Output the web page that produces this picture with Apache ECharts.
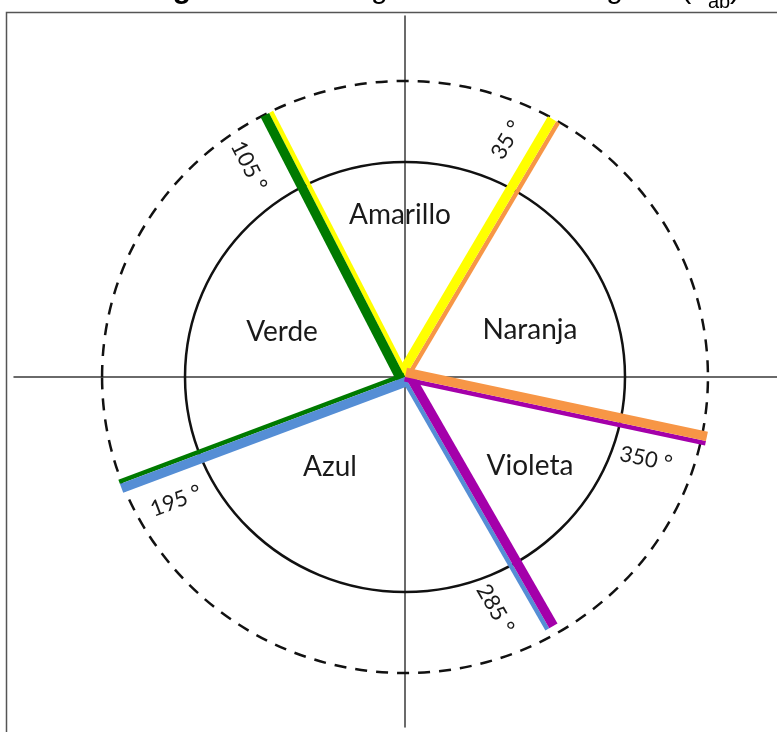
<!DOCTYPE html>
<html><head><meta charset="utf-8">
<script src="https://cdn.jsdelivr.net/npm/echarts@6/dist/echarts.min.js"></script>
<style>html,body{margin:0;padding:0;background:#fff}#c{width:777px;height:732px}</style>
</head><body><div id="c"></div>
<script>
// Hue-angle boundaries (labels as written) and where they are drawn (schematic diagram)
const boundaryLabels = ['35 °', '105 °', '195 °', '285 °', '350 °'];
const boundaryDrawAngle = [60.0, 116.7, 201.0, 299.3, 347.7];
const boundaryLength = [1.374, 1.375, 1.388, 1.34, 1.40];
const boundaryLabelAngle = [67.2, 125.9, 209.0, 290.8, 340.8];
const boundaryLabelRadius = [1.196, 1.211, 1.190, 1.154, 1.160];
const boundaryMainColor = ['#FFFF00', '#007A00', '#558ED5', '#A400AA', '#F79646'];
const boundaryEdgeColor = ['#F79646', '#FFFF00', '#007A00', '#558ED5', '#A400AA'];
// Colour regions
const regionNames = ['Amarillo', 'Naranja', 'Verde', 'Azul', 'Violeta'];
const regionX = [-0.023, 0.568, -0.559, -0.341, 0.568];
const regionY = [0.753, 0.219, 0.209, -0.419, -0.414];
// Reference circles (radius, dashed?)
const circleRadius = [1, 1.377];
const circleDashed = [0, 1];

const chart = echarts.init(document.getElementById('c'), null, {renderer: 'canvas'});

function rayItem(params, api) {
  const i = params.dataIndex;
  const ang = api.value(0) * Math.PI / 180, len = api.value(1);
  const p0 = api.coord([0, 0]);
  const p1 = api.coord([len * Math.cos(ang), len * Math.sin(ang)]);
  let dx = p1[0] - p0[0], dy = p1[1] - p0[1];
  const L = Math.hypot(dx, dy); dx /= L; dy /= L;
  const nx = dy, ny = -dx;
  const wMain = 9.5, wEdge = 4.5;
  const o1 = wMain / 2, o2 = -wEdge / 2;
  return {type: 'group', children: [
    {type: 'line', shape: {x1: p0[0] + nx * o2, y1: p0[1] + ny * o2, x2: p1[0] + nx * o2, y2: p1[1] + ny * o2},
      style: {stroke: boundaryEdgeColor[i], lineWidth: wEdge}},
    {type: 'line', shape: {x1: p0[0] + nx * o1, y1: p0[1] + ny * o1, x2: p1[0] + nx * o1, y2: p1[1] + ny * o1},
      style: {stroke: boundaryMainColor[i], lineWidth: wMain}}
  ]};
}

function rayLabelItem(params, api) {
  const i = params.dataIndex;
  const a = api.value(0) * Math.PI / 180, r = api.value(1);
  const p = api.coord([r * Math.cos(a), r * Math.sin(a)]);
  const b = boundaryDrawAngle[i] * Math.PI / 180;
  const p0 = api.coord([0, 0]);
  const p1 = api.coord([Math.cos(b), Math.sin(b)]);
  let rot = Math.atan2(-(p1[1] - p0[1]), p1[0] - p0[0]);
  if (rot > Math.PI / 2) rot -= Math.PI;
  if (rot < -Math.PI / 2) rot += Math.PI;
  return {type: 'text', x: p[0], y: p[1], rotation: rot,
    style: {text: boundaryLabels[i], font: '22px Lato', fill: '#1a1a1a', align: 'center', verticalAlign: 'middle'}};
}

function circleItem(params, api) {
  const r = api.value(0), dashed = api.value(1);
  const c = api.coord([0, 0]);
  const sx = api.size([r, 0])[0], sy = api.size([0, r])[1];
  return {type: 'ellipse', shape: {cx: c[0], cy: c[1], rx: sx, ry: sy},
    style: {fill: null, stroke: '#111', lineWidth: 2.5, lineDash: dashed ? [12, 9] : null}};
}

function regionItem(params, api) {
  const p = api.coord([api.value(0), api.value(1)]);
  return {type: 'text', x: p[0], y: p[1],
    style: {text: regionNames[params.dataIndex], font: '28px Lato', fill: '#1a1a1a', align: 'center', verticalAlign: 'middle'}};
}

const option = {
  animation: false,
  backgroundColor: '#fff',
  grid: {left: 14, right: 0, top: 16, bottom: 5, containLabel: false},
  xAxis: {type: 'value', min: -1.7773, max: 1.6909,
    axisLine: {show: true, onZero: true, lineStyle: {color: '#3a3a3a', width: 1.5}},
    axisTick: {show: false}, axisLabel: {show: false}, splitLine: {show: false}},
  yAxis: {type: 'value', min: -1.628, max: 1.679,
    axisLine: {show: true, onZero: true, lineStyle: {color: '#3a3a3a', width: 1.5}},
    axisTick: {show: false}, axisLabel: {show: false}, splitLine: {show: false}},
  graphic: [
    {type: 'polyline', shape: {points: [[6.5, 732], [6.5, 12.5], [777, 12.5]]},
      style: {stroke: '#555', lineWidth: 1.5, fill: null}, z: 10},
    {type: 'text', x: 146, y: -10.5, style: {text: 'Figura 1.', font: 'bold 30px "Liberation Sans"', fill: '#000', align: 'left', verticalAlign: 'middle'}},
    {type: 'text', x: 326, y: -10.5, style: {text: 'Diagrama de tono angular (h', font: '30px "Liberation Sans"', fill: '#000', align: 'left', verticalAlign: 'middle'}},
    {type: 'text', x: 708, y: 2, style: {text: 'ab', font: '20px "Liberation Sans"', fill: '#000', align: 'left', verticalAlign: 'middle'}},
    {type: 'text', x: 730, y: -10.5, style: {text: ')', font: '30px "Liberation Sans"', fill: '#000', align: 'left', verticalAlign: 'middle'}}
  ],
  series: [
    {type: 'custom', coordinateSystem: 'cartesian2d', renderItem: circleItem, clip: false, z: 2,
      data: circleRadius.map((r, i) => [r, circleDashed[i]])},
    {type: 'custom', coordinateSystem: 'cartesian2d', renderItem: rayItem, clip: false, z: 3,
      data: boundaryDrawAngle.map((a, i) => [a, boundaryLength[i]])},
    {type: 'custom', coordinateSystem: 'cartesian2d', renderItem: rayLabelItem, clip: false, z: 4,
      data: boundaryLabelAngle.map((a, i) => [a, boundaryLabelRadius[i]])},
    {type: 'custom', coordinateSystem: 'cartesian2d', renderItem: regionItem, clip: false, z: 4,
      data: regionNames.map((n, i) => [regionX[i], regionY[i]])}
  ]
};
chart.setOption(option);
</script></body></html>
